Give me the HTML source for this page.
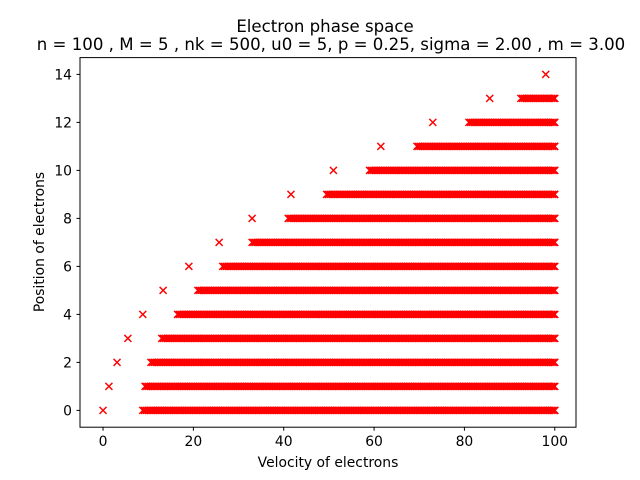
<!DOCTYPE html>
<html><head><meta charset="utf-8"><style>
body{margin:0;background:#fff}
svg{display:block;font-family:"DejaVu Sans","Liberation Sans",sans-serif}
</style></head><body>
<svg id="chart" width="640" height="480" viewBox="0 0 640 480">
<rect width="640" height="480" fill="#fff"/>
<text x="325" y="32" text-anchor="middle" font-size="16.6">Electron phase space</text>
<text x="331" y="50" text-anchor="middle" font-size="16.6">n = 100 , M = 5 , nk = 500, u0 = 5, p = 0.25, sigma = 2.00 , m = 3.00</text>
<g id="marks"></g>
<rect x="80" y="57.6" width="496" height="369.6" fill="none" stroke="#000" stroke-width="1"/>
<g id="xticks"></g>
<g id="yticks"></g>
<text x="328" y="467" text-anchor="middle" font-size="13.9">Velocity of electrons</text>
<text transform="translate(44,242) rotate(-90)" text-anchor="middle" font-size="13.9">Position of electrons</text>
</svg>
<script>
const levels=[0,1,2,3,4,5,6,7,8,9,10,11,12,13,14];
const isolatedX=[0,1.3,3.1,5.5,8.8,13.3,19,25.7,33,41.6,51,61.5,73,85.6,98];
const bandStart=[8.8,9.3,10.6,13,16.5,21,26.5,33,41,49.5,59,69.5,81,92.5,null];
const bandEnd=[100,100,100,100,100,100,100,100,100,100,100,100,100,100,null];
const xTickVals=[0,20,40,60,80,100];
const yTickVals=[0,2,4,6,8,10,12,14];
const NS="http://www.w3.org/2000/svg";
const X0=-5.1,X1=104.7,Y0=-0.7,Y1=14.7;
function sx(v){return 80+(v-X0)/(X1-X0)*496;}
function sy(v){return 427.2-(v-Y0)/(Y1-Y0)*369.6;}
const marks=document.getElementById('marks');
function cross(x,y){
  const p=document.createElementNS(NS,'path');
  const r=3.5;
  p.setAttribute('d',`M${x-r},${y-r}L${x+r},${y+r}M${x-r},${y+r}L${x+r},${y-r}`);
  p.setAttribute('stroke','#ff0000');p.setAttribute('stroke-width','1.5');
  
  
  marks.appendChild(p);
}
levels.forEach((lv,i)=>{
  cross(sx(isolatedX[i]),sy(lv));
  if(bandStart[i]!==null){
    for(let v=bandStart[i];v<=bandEnd[i]+1e-9;v+=0.4) cross(sx(v),sy(lv));
    cross(sx(bandEnd[i]),sy(lv));
  }
});
const xt=document.getElementById('xticks');
xTickVals.forEach(v=>{
  const x=sx(v);
  const l=document.createElementNS(NS,'line');
  l.setAttribute('x1',x);l.setAttribute('x2',x);l.setAttribute('y1',427.2);l.setAttribute('y2',430.7);l.setAttribute('stroke','#000');
  
  
  xt.appendChild(l);
  const t=document.createElementNS(NS,'text');
  t.setAttribute('x',x);t.setAttribute('y',446);t.setAttribute('text-anchor','middle');t.setAttribute('font-size','13.9');
  t.textContent=v;
  
  
  xt.appendChild(t);
});
const yt=document.getElementById('yticks');
yTickVals.forEach(v=>{
  const y=sy(v);
  const l=document.createElementNS(NS,'line');
  l.setAttribute('x1',76.5);l.setAttribute('x2',80);l.setAttribute('y1',y);l.setAttribute('y2',y);l.setAttribute('stroke','#000');
  
  
  yt.appendChild(l);
  const t=document.createElementNS(NS,'text');
  t.setAttribute('x',72);t.setAttribute('y',y+5);t.setAttribute('text-anchor','end');t.setAttribute('font-size','13.9');
  t.textContent=v;
  
  
  yt.appendChild(t);
});
</script>
</body></html>
